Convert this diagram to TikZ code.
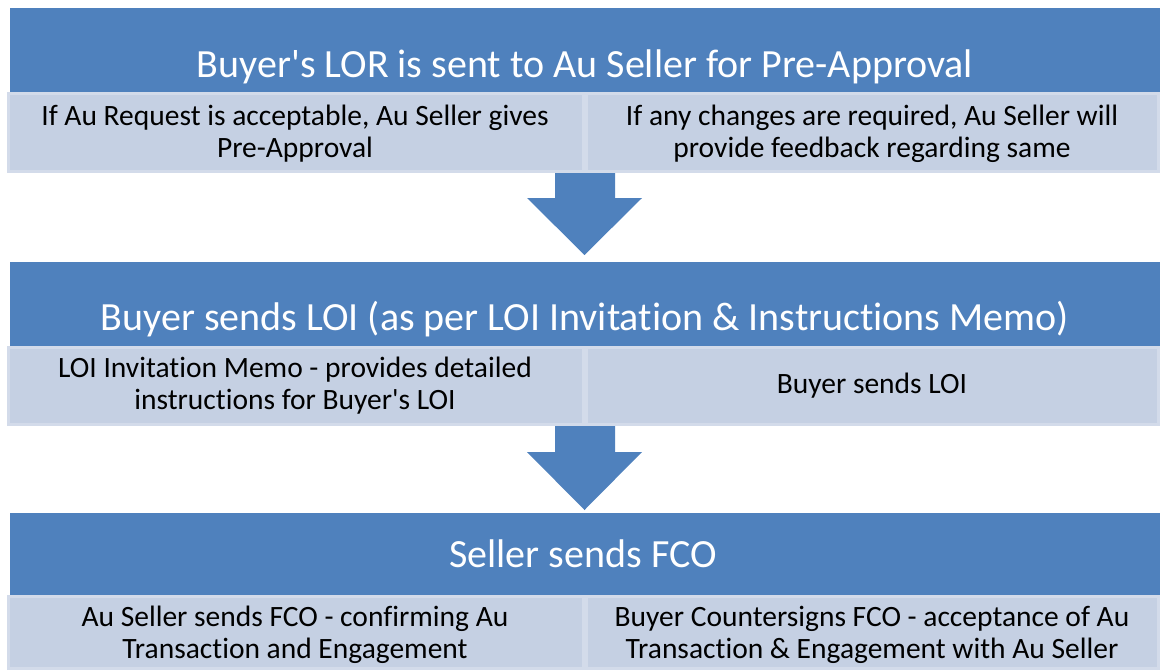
\documentclass[tikz,border=0pt]{standalone}
\usepackage{fontspec}
\setmainfont{Carlito}[Ligatures={NoCommon}]
\begin{document}
\begin{tikzpicture}[x=1pt,y=-1pt,
  hdr/.style={fill=hblue, draw=none, inner sep=0pt, anchor=north west},
  hdrtext/.style={text=white, anchor=base, inner sep=0pt, font=\fontsize{40}{46}\selectfont},
  sub/.style={fill=lfill, draw=lborder, line width=3pt},
  subtext/.style={align=center, inner sep=0pt, text=black, font=\fontsize{29.5}{32}\selectfont},
  blockarrow/.style={fill=hblue, draw=none}]
\definecolor{hblue}{HTML}{4F81BD}
\definecolor{lfill}{HTML}{C5D0E3}
\definecolor{lborder}{HTML}{D3DBEA}
\useasboundingbox (0,0) rectangle (1160,670);
% ---- row 1
\node[hdr, minimum width=1150pt, minimum height=84pt] (h1) at (10,8) {};
\node[hdrtext] (h1t) at (585,77) {Buyer\textquotesingle s LOR is sent to Au Seller for Pre-Approval};
\draw[sub] (8.5,93.5) rectangle (583.5,171.5);
\draw[sub] (586,93.5) rectangle (1158.5,171.5);
\node[subtext] (s1a) at (295,134) {If Au Request is acceptable, Au Seller gives\\Pre-Approval};
\node[subtext] (s1b) at (872,134) {If any changes are required, Au Seller will\\provide feedback regarding same};
% arrow 1
\fill[blockarrow] (555,173) -- (615,173) -- (615,198) -- (642,198) -- (584.5,255) -- (527,198) -- (555,198) -- cycle;
% ---- row 2
\node[hdr, minimum width=1150pt, minimum height=84pt] (h2) at (10,262) {};
\node[hdrtext] (h2t) at (585,330) {Buyer sends LOI (as per LOI Invitation \& Instructions Memo)};
\draw[sub] (8.5,347.5) rectangle (583.5,424.5);
\draw[sub] (586,347.5) rectangle (1158.5,424.5);
\node[subtext] (s2a) at (295,386) {LOI Invitation Memo - provides detailed\\instructions for Buyer\textquotesingle s LOI};
\node[subtext] (s2b) at (872,386) {Buyer sends LOI};
% arrow 2
\fill[blockarrow] (555,426) -- (615,426) -- (615,452) -- (642,452) -- (584.5,510) -- (527,452) -- (555,452) -- cycle;
% ---- row 3
\node[hdr, minimum width=1150pt, minimum height=82pt] (h3) at (10,513) {};
\node[hdrtext] (h3t) at (583,567) {Seller sends FCO};
\draw[sub] (8.5,596.5) rectangle (583.5,668.5);
\draw[sub] (586,596.5) rectangle (1158.5,668.5);
\node[subtext] (s3a) at (295,635) {Au Seller sends FCO - confirming Au\\Transaction and Engagement};
\node[subtext] (s3b) at (872,635) {Buyer Countersigns FCO - acceptance of Au\\Transaction \& Engagement with Au Seller};
\end{tikzpicture}
\end{document}
